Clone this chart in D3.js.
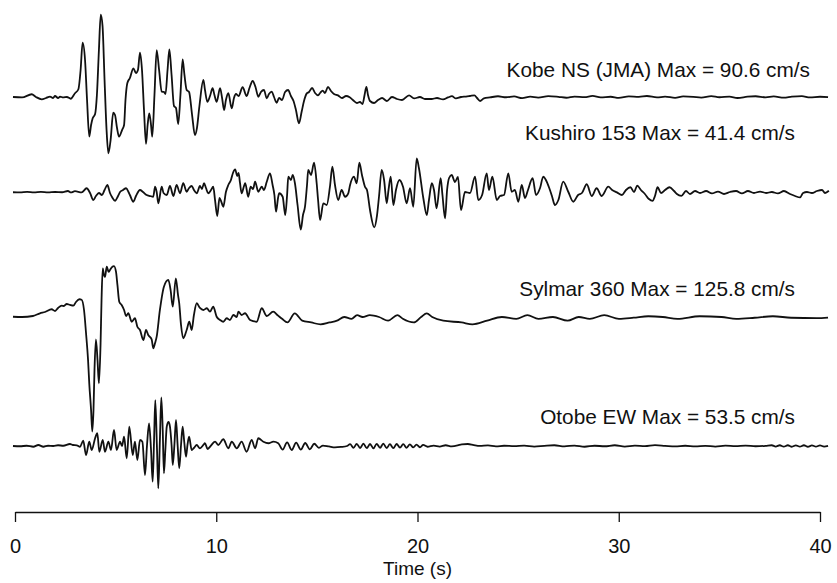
<!DOCTYPE html>
<html>
<head>
<meta charset="utf-8">
<script src="https://cdn.jsdelivr.net/npm/d3@7"></script>
<style>
  html, body { margin: 0; padding: 0; background: #fff; }
  svg { display: block; }
</style>
</head>
<body>
<svg id="chart" width="837" height="583"></svg>
<script>
// Ground-velocity records: [time (s), velocity (cm/s)]
const kobe = [
  [-0.1,0],[0.35,-0.5],[0.83,3.0],[1.04,0],[1.33,-2.5],[1.54,-1.1],[1.74,0.5],[1.89,-1.1],[1.99,1.1],[2.14,-1.1],
  [2.24,0.5],[2.39,-0.5],[2.58,0],[2.77,-1.9],[2.98,4.1],[3.15,8.5],[3.26,29.7],[3.36,59.7],[3.48,40.7],[3.58,-3.3],
  [3.69,-43.6],[3.78,-30.8],[3.86,-23.4],[3.98,-18.7],[4.07,2.2],[4.17,51.6],[4.26,90.6],[4.35,78.0],[4.45,18.7],[4.55,-36.3],
  [4.64,-61.9],[4.75,-47.3],[4.88,-17.3],[4.97,-19.8],[5.07,-34.1],[5.17,-43.6],[5.32,-36.3],[5.42,-30.8],[5.49,-3.3],[5.58,15.1],
  [5.71,20.9],[5.88,31.5],[6.01,26.4],[6.11,29.7],[6.21,48.7],[6.31,29.7],[6.41,-14.3],[6.51,-51.6],[6.59,-30.8],[6.67,-17.9],
  [6.76,-30.8],[6.82,-43.6],[6.93,2.2],[7.04,51.6],[7.16,29.7],[7.29,5.8],[7.40,5.5],[7.48,3.3],[7.58,29.7],[7.67,52.4],
  [7.78,24.2],[7.90,-9.9],[8.00,-12.1],[8.11,-29.7],[8.22,2.2],[8.33,41.4],[8.42,24.2],[8.53,7.7],[8.65,5.5],[8.80,-19.8],
  [8.94,-41.8],[9.04,-34.1],[9.16,-10.7],[9.36,18.7],[9.44,7.7],[9.56,-5.2],[9.69,1.1],[9.82,9.6],[9.91,2.2],[10.02,-5.2],
  [10.19,9.6],[10.29,-1.1],[10.39,-14.3],[10.48,-3.3],[10.60,4.1],[10.77,-12.4],[10.88,-1.1],[10.98,3.3],[11.11,1.1],[11.31,10.7],
  [11.51,1.1],[11.65,9.9],[11.81,17.6],[11.95,11.0],[12.09,0.3],[12.22,5.5],[12.37,7.7],[12.51,-1.4],[12.62,3.3],[12.76,5.8],
  [12.87,0],[13.00,-6.3],[13.12,-1.1],[13.27,-3.3],[13.42,5.5],[13.57,7.7],[13.71,1.1],[13.84,-4.4],[13.96,-14.3],[14.11,-29.0],
  [14.24,-16.5],[14.36,-4.4],[14.49,3.7],[14.61,5.5],[14.76,9.9],[14.91,4.4],[15.06,1.8],[15.16,4.4],[15.29,7.0],[15.40,4.4],
  [15.55,11.1],[15.70,6.6],[15.85,3.3],[16.05,1.8],[16.25,-1.1],[16.45,1.1],[16.63,-0.3],[16.79,-3.3],[16.99,-6.6],[17.14,-5.5],
  [17.27,-7.7],[17.37,2.2],[17.46,11.1],[17.54,2.2],[17.64,-4.4],[17.84,-6.6],[18.04,-3.3],[18.24,-1.1],[18.48,-4.4],[18.73,0],
  [18.98,-2.2],[19.23,-3.3],[19.58,1.8],[19.83,-1.6],[20.12,0],[20.37,-2.2],[20.70,-2.2],[20.97,-1.1],[21.27,-2.7],[21.52,-0.5],
  [21.71,0.9],[21.91,-1.6],[22.16,0],[22.41,0.5],[22.61,1.1],[22.83,1.8],[22.96,-1.1],[23.11,-4.4],[23.30,-1.6],[23.6,-0.5],
  [24.0,0.8],[24.4,-0.3],[24.8,0.6],[25.2,-1.2],[25.6,0.4],[26.0,-0.6],[26.5,1.0],[27.0,0.2],[27.4,-0.8],[27.8,0.5],
  [28.3,-0.2],[28.7,1.2],[29.1,-0.4],[29.6,0.3],[30.0,-1.0],[30.5,0.6],[31.0,0.1],[31.4,1.1],[31.9,-0.5],[32.3,0.4],
  [32.8,-0.9],[33.2,0.7],[33.7,0.2],[34.1,-0.6],[34.6,0.9],[35.0,-0.3],[35.5,0.5],[35.9,-1.1],[36.4,0.3],[36.8,0.8],
  [37.3,-0.4],[37.7,0.6],[38.2,-0.7],[38.6,0.4],[39.1,1.0],[39.5,-0.5],[40.0,0.3],[40.4,-0.2]
];

const kushiro = [
  [-0.1,-0.3],[0.25,-0.5],[0.6,0.2],[0.94,-0.4],[1.29,0.1],[1.64,-0.5],[1.99,0],[2.34,-0.3],[2.63,1.1],[2.78,-0.5],
  [2.98,0.9],[3.31,-0.5],[3.56,4.1],[3.73,-1.1],[3.89,-8.8],[4.02,-4.4],[4.17,-1.1],[4.32,-3.3],[4.45,2.2],[4.59,7.7],
  [4.72,-1.1],[4.82,-5.5],[4.97,-9.6],[5.12,-4.4],[5.22,0],[5.37,2.2],[5.52,4.1],[5.64,0],[5.71,-3.3],[5.88,-10.7],
  [6.01,-4.4],[6.21,2.2],[6.36,0],[6.54,-3.3],[6.71,-4.4],[6.87,-5.2],[6.96,5.8],[7.04,0],[7.12,-12.4],[7.29,5.8],
  [7.38,-1.1],[7.54,-3.3],[7.70,6.6],[7.87,-4.4],[8.03,7.7],[8.20,-1.4],[8.36,9.6],[8.53,0.3],[8.65,4.4],[8.78,6.6],
  [8.89,2.2],[9.03,-1.4],[9.19,6.6],[9.29,3.3],[9.39,9.6],[9.49,4.4],[9.60,-1.4],[9.74,2.2],[9.85,5.8],[9.94,-8.8],
  [10.05,-26.4],[10.16,-6.6],[10.24,-9.9],[10.35,-16.2],[10.48,0],[10.60,7.7],[10.73,13.2],[10.83,20.9],[10.94,24.9],[11.04,17.6],
  [11.11,20.9],[11.18,9.9],[11.26,-1.4],[11.38,6.6],[11.44,9.6],[11.59,-5.2],[11.71,5.8],[11.83,3.3],[11.93,11.3],[12.09,0.3],
  [12.26,5.8],[12.37,2.2],[12.51,11.3],[12.67,20.5],[12.80,7.7],[12.89,-3.3],[12.97,-21.6],[13.07,-6.6],[13.13,-1.4],[13.30,-5.2],
  [13.43,-25.3],[13.52,-3.3],[13.58,16.8],[13.71,13.2],[13.80,18.7],[13.91,9.6],[14.04,-14.3],[14.20,-41.4],[14.31,-25.3],[14.41,-16.2],
  [14.51,7.7],[14.57,24.2],[14.71,18.7],[14.86,32.2],[14.99,9.6],[15.06,-8.8],[15.16,-30.8],[15.32,-12.4],[15.49,-14.3],[15.65,5.8],
  [15.77,27.8],[15.90,7.7],[16.06,-8.8],[16.23,2.2],[16.40,-5.2],[16.56,-1.4],[16.65,7.7],[16.84,16.8],[16.98,9.6],[17.11,32.2],
  [17.24,18.7],[17.39,5.8],[17.49,2.2],[17.64,-19.8],[17.85,-38.8],[17.99,-25.3],[18.09,-4.4],[18.22,24.2],[18.34,13.2],[18.47,-12.4],
  [18.56,2.2],[18.67,16.8],[18.80,-14.3],[18.93,2.2],[19.10,13.2],[19.28,5.8],[19.46,-12.4],[19.63,4.1],[19.79,-16.2],[19.96,37.0],
  [20.07,26.4],[20.29,-6.9],[20.46,-25.3],[20.57,-8.8],[20.71,9.6],[20.82,2.2],[20.95,-17.9],[21.15,15.1],[21.24,-3.3],[21.37,-28.9],
  [21.47,2.2],[21.57,15.4],[21.70,18.7],[21.86,11.0],[22.01,16.5],[22.16,-19.8],[22.36,0],[22.61,-1.1],[22.86,16.8],[23.02,-8.8],
  [23.21,-3.3],[23.44,20.5],[23.55,2.2],[23.72,16.8],[23.94,-8.8],[24.10,-4.4],[24.30,-3.3],[24.51,20.5],[24.68,0.3],[24.84,2.2],
  [25.01,-10.7],[25.18,7.7],[25.34,-6.6],[25.49,2.2],[25.72,15.1],[25.89,-3.3],[26.09,4.4],[26.25,16.8],[26.38,13.2],[26.55,4.1],
  [26.68,-4.4],[26.83,-14.3],[27.00,-8.8],[27.24,11.3],[27.49,0.3],[27.74,-10.7],[27.98,-3.3],[28.17,-1.1],[28.41,8.5],[28.66,-4.4],
  [28.90,4.1],[29.15,-4.4],[29.48,5.8],[29.67,2.2],[29.91,-0.4],[30.16,-3.3],[30.36,2.2],[30.58,5.2],[30.76,0],[30.92,7.0],
  [31.10,2.2],[31.30,-2.2],[31.50,-7.7],[31.68,-9.7],[31.80,-4.4],[31.93,5.2],[32.10,-1.1],[32.30,2.2],[32.52,5.2],[32.75,1.1],
  [32.89,-2.2],[33.11,-4.2],[33.34,1.1],[33.54,-2.2],[33.79,1.1],[34.04,-1.1],[34.34,1.1],[34.63,-1.6],[34.93,0.5],[35.23,-2.2],
  [35.53,0],[35.83,1.1],[36.12,-1.6],[36.42,1.1],[36.72,-1.1],[37.02,0.5],[37.32,-1.1],[37.61,0],[37.91,-1.6],[38.21,1.1],
  [38.51,-2.2],[38.76,-4.4],[39.01,-6.0],[39.16,-1.1],[39.35,0],[39.60,-1.1],[39.85,1.1],[40.10,2.2],[40.25,-1.1],[40.44,1.4]
];

const sylmar = [
  [-0.1,0.3],[0.35,0],[0.89,1.1],[1.24,4.1],[1.49,5.5],[1.82,8.5],[1.99,6.6],[2.14,9.9],[2.32,12.4],[2.43,12.1],
  [2.57,14.3],[2.73,13.2],[2.90,12.4],[3.03,16.5],[3.20,19.5],[3.31,19.0],[3.43,7.7],[3.53,-17.9],[3.63,-47.3],[3.69,-72.9],
  [3.78,-102.2],[3.84,-125.8],[3.90,-102.2],[3.95,-58.2],[4.02,-24.5],[4.10,-47.3],[4.17,-72.9],[4.25,-30.8],[4.30,18.7],[4.36,53.5],
  [4.42,46.2],[4.47,44.0],[4.56,55.3],[4.65,49.5],[4.72,51.6],[4.82,54.9],[4.92,56.0],[5.02,49.5],[5.09,35.2],[5.18,16.8],
  [5.30,13.2],[5.42,7.7],[5.52,1.1],[5.63,4.1],[5.80,-5.2],[5.96,-1.4],[6.08,-10.7],[6.21,-14.3],[6.38,-25.3],[6.51,-14.3],
  [6.62,-19.8],[6.79,-24.5],[6.87,-34.4],[6.96,-28.6],[7.04,-21.6],[7.20,7.7],[7.40,33.3],[7.62,40.7],[7.73,29.7],[7.84,11.3],
  [7.99,42.5],[8.10,24.2],[8.16,15.1],[8.25,-8.8],[8.36,-23.4],[8.53,-14.3],[8.66,-5.2],[8.78,-14.3],[8.89,2.2],[9.03,15.1],
  [9.19,9.9],[9.36,7.7],[9.53,9.6],[9.69,5.8],[9.85,11.3],[10.02,0.3],[10.19,-3.3],[10.35,-5.2],[10.52,-1.4],[10.68,-3.3],
  [10.85,2.2],[11.02,0],[11.10,5.8],[11.26,2.2],[11.43,4.1],[11.68,-3.3],[12.01,-5.2],[12.26,9.6],[12.51,1.1],[12.83,5.8],
  [13.05,2.0],[13.27,-2.0],[13.54,-6.0],[13.90,4.0],[14.27,-4.0],[14.72,-6.0],[15.18,-8.1],[15.63,-6.0],[16.00,-4.0],[16.36,0],
  [16.72,-2.0],[17.00,2.0],[17.27,0],[17.63,2.0],[18.09,0],[18.54,-4.0],[19.00,2.0],[19.27,-2.0],[19.82,-6.0],[20.18,0],
  [20.46,4.0],[20.73,0],[21.28,-4.0],[22.19,-6.0],[22.73,-8.1],[23.46,-4.0],[24.19,0],[24.91,-2.0],[25.46,2.0],[26.01,-2.0],
  [26.73,0],[27.46,-4.0],[28.01,0],[28.56,-2.0],[29.28,2.0],[30.01,-2.0],[30.74,-0.8],[31.47,0.8],[32.19,0],[32.92,-2.0],
  [34.02,0.8],[35.11,0],[35.84,-2.0],[36.75,-0.8],[37.66,0.8],[38.56,-0.8],[39.84,-1.2],[40.4,-0.6]
];

const otobe = [
  [-0.1,0],[0.25,-0.3],[0.58,0.3],[0.91,-0.8],[1.16,1.1],[1.41,-0.8],[1.64,0.3],[1.90,0],[2.14,0.8],[2.40,0.3],
  [2.73,2.2],[2.88,1.1],[3.07,0.8],[3.23,-0.8],[3.39,5.8],[3.53,-9.9],[3.69,4.7],[3.81,-4.4],[3.98,8.5],[4.09,14.0],
  [4.19,-6.3],[4.36,6.6],[4.47,-6.3],[4.64,4.7],[4.77,-4.4],[4.92,17.6],[5.05,-4.4],[5.22,4.7],[5.32,0],[5.42,10.2],
  [5.55,-13.5],[5.68,21.2],[5.85,-9.9],[5.96,4.7],[6.08,-15.4],[6.21,6.6],[6.33,4.7],[6.46,-31.9],[6.56,1.1],[6.66,24.9],
  [6.76,-4.4],[6.84,-39.2],[6.91,6.6],[6.97,50.5],[7.05,1.1],[7.12,-46.5],[7.20,6.6],[7.27,53.5],[7.34,17.6],[7.40,-30.0],
  [7.47,-4.4],[7.54,21.2],[7.63,26.4],[7.70,21.2],[7.78,1.1],[7.84,-20.9],[7.92,1.1],[8.00,28.6],[8.08,1.1],[8.16,-24.5],
  [8.25,1.1],[8.33,21.2],[8.41,4.4],[8.50,-11.8],[8.57,1.1],[8.65,10.2],[8.78,-4.4],[8.89,-2.2],[9.03,1.1],[9.19,-2.5],
  [9.36,1.1],[9.44,3.0],[9.57,-3.3],[9.69,-0.8],[9.94,4.7],[10.10,1.1],[10.35,7.4],[10.60,-2.5],[10.77,4.7],[11.02,-2.5],
  [11.26,4.7],[11.51,-6.3],[11.76,6.6],[11.93,-2.5],[12.09,8.5],[12.34,4.7],[12.59,3.0],[12.84,4.7],[13.08,3.0],[13.30,-4.0],
  [13.52,4.0],[13.75,-4.4],[13.97,3.6],[14.20,-4.0],[14.42,3.3],[14.65,-3.6],[14.87,2.5],[15.10,-2.0],[15.30,0.5],[15.60,-0.5],
  [15.90,-1.5],[16.20,-1.0],[16.50,0],[16.65,2.0],[16.82,-2.0],[16.98,2.4],[17.15,-2.2],[17.31,2.6],[17.48,-2.4],[17.64,2.2],
  [17.81,-2.6],[17.97,2.4],[18.14,-2.0],[18.30,2.6],[18.47,-2.2],[18.63,2.0],[18.80,-2.4],[18.96,2.2],[19.13,-1.8],[19.29,2.0],
  [19.46,-2.0],[19.62,1.8],[19.79,-1.6],[19.95,1.6],[20.12,-1.4],[20.28,1.2],[20.50,-0.8],[20.80,0.4],[21.10,-0.6],[21.40,0.8],
  [21.70,-0.4],[22.00,0.6],[22.20,1.8],[22.50,2.2],[22.80,1.0],[23.10,0.2],[23.50,0.6],[23.90,-0.4],[24.30,0.3],[24.80,-0.2],
  [25.30,0.4],[25.80,-0.6],[26.30,0.2],[26.80,0.8],[27.30,-0.4],[27.80,0.5],[28.30,-0.8],[28.80,0.3],[29.30,-0.3],[29.80,0.8],
  [30.30,-0.6],[30.80,0.4],[31.30,-0.2],[31.80,0.9],[32.30,0.2],[32.80,-0.5],[33.30,0.3],[33.80,-0.4],[34.30,0.2],[34.80,-0.6],
  [35.30,0.4],[35.80,-0.2],[36.30,0.5],[36.80,-0.3],[37.30,0.2],[37.60,0.8],[37.80,-0.6],[38.00,0.8],[38.20,-0.7],[38.40,0.8],
  [38.60,-0.8],[38.80,0.7],[39.00,-0.7],[39.20,0.8],[39.40,-0.8],[39.60,0.6],[39.80,-0.7],[40.00,0.6],[40.20,-0.6],[40.40,0.2]
];

const stations = ["Kobe NS (JMA)", "Kushiro 153", "Sylmar 360", "Otobe EW"];
const peakVelocity = [90.6, 41.4, 125.8, 53.5];
const timeTicks = [0, 10, 20, 30, 40];

const records = [kobe, kushiro, sylmar, otobe];

// Layout
const W = 837, H = 583;
const baselines = [97, 192, 317, 446];   // zero line of each record
const labelAnchor = [[810, 77], [795, 140], [795, 296], [795, 424]];
const axisY = 512;

const svg = d3.select("#chart");
svg.append("rect").attr("width", W).attr("height", H).attr("fill", "#fff");

const x = d3.scaleLinear().domain([0, 40]).range([15, 820]);
const amp = d3.scaleLinear().domain([-100, 100]).range([91, -91]); // shared cm/s scale

const line = d3.line()
  .x(d => x(d[0]))
  .y(d => amp(d[1]))
  .curve(d3.curveMonotoneX);

records.forEach((rec, i) => {
  const g = svg.append("g").attr("transform", `translate(0,${baselines[i]})`);
  g.append("path")
    .datum(rec)
    .attr("d", line)
    .attr("fill", "none")
    .attr("stroke", "#111")
    .attr("stroke-width", 1.8)
    .attr("stroke-linejoin", "round");

  svg.append("text")
    .attr("x", labelAnchor[i][0])
    .attr("y", labelAnchor[i][1])
    .attr("text-anchor", "end")
    .attr("font-family", "'Liberation Sans', Arial, sans-serif")
    .attr("font-size", 20.8)
    .attr("fill", "#111")
    .text(`${stations[i]} Max = ${peakVelocity[i]} cm/s`);
});

// Time axis
const axis = d3.axisBottom(x)
  .tickValues(timeTicks)
  .tickFormat(d3.format("d"))
  .tickSize(10)
  .tickSizeOuter(0)
  .tickPadding(17);

const ax = svg.append("g")
  .attr("transform", `translate(0,${axisY})`)
  .call(axis);
ax.select(".domain").attr("stroke", "#111").attr("stroke-width", 1.3);
ax.selectAll(".tick line").attr("stroke", "#111").attr("stroke-width", 1.3);
ax.selectAll(".tick text")
  .attr("fill", "#111")
  .attr("font-family", "'Liberation Sans', Arial, sans-serif")
  .attr("font-size", 20);

svg.append("text")
  .attr("x", x(20))
  .attr("y", 575)
  .attr("text-anchor", "middle")
  .attr("font-family", "'Liberation Sans', Arial, sans-serif")
  .attr("font-size", 19)
  .attr("fill", "#111")
  .text("Time (s)");
</script>
</body>
</html>
